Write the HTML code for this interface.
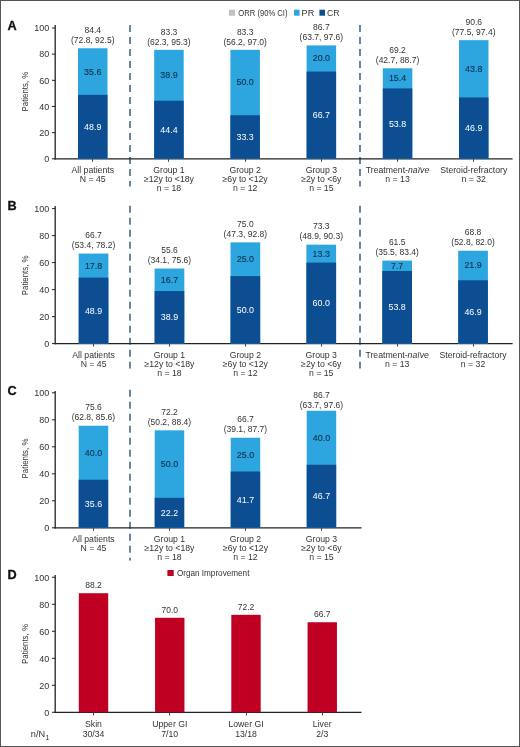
<!DOCTYPE html>
<html><head><meta charset="utf-8"><style>
html,body{margin:0;padding:0;background:#fff;}
#w{position:relative;width:518px;height:745px;border:1px solid #555;overflow:hidden;}
svg{position:absolute;left:-1px;top:-1px;font-family:"Liberation Sans", sans-serif;will-change:transform;}
</style></head><body><div id="w">
<svg width="520" height="747" viewBox="0 0 520 747">
<line x1="130.00" y1="24.90" x2="130.00" y2="186.50" stroke="#52718f" stroke-width="1.7" stroke-dasharray="7 5"/>
<line x1="360.00" y1="24.90" x2="360.00" y2="186.50" stroke="#52718f" stroke-width="1.7" stroke-dasharray="7 5"/>
<line x1="55.20" y1="25.00" x2="55.20" y2="159.40" stroke="#222222" stroke-width="1.3" />
<line x1="52.00" y1="158.80" x2="55.20" y2="158.80" stroke="#222222" stroke-width="1.0" />
<text x="49.20" y="162.00" font-size="9" text-anchor="end" fill="#333333" >0</text>
<line x1="52.00" y1="132.64" x2="55.20" y2="132.64" stroke="#222222" stroke-width="1.0" />
<text x="49.20" y="135.84" font-size="9" text-anchor="end" fill="#333333" >20</text>
<line x1="52.00" y1="106.48" x2="55.20" y2="106.48" stroke="#222222" stroke-width="1.0" />
<text x="49.20" y="109.68" font-size="9" text-anchor="end" fill="#333333" >40</text>
<line x1="52.00" y1="80.32" x2="55.20" y2="80.32" stroke="#222222" stroke-width="1.0" />
<text x="49.20" y="83.52" font-size="9" text-anchor="end" fill="#333333" >60</text>
<line x1="52.00" y1="54.16" x2="55.20" y2="54.16" stroke="#222222" stroke-width="1.0" />
<text x="49.20" y="57.36" font-size="9" text-anchor="end" fill="#333333" >80</text>
<line x1="52.00" y1="28.00" x2="55.20" y2="28.00" stroke="#222222" stroke-width="1.0" />
<text x="49.20" y="31.20" font-size="9" text-anchor="end" fill="#333333" >100</text>
<line x1="54.55" y1="158.80" x2="512.60" y2="158.80" stroke="#222222" stroke-width="1.3" />
<text x="0" y="0" font-size="8.8" text-anchor="middle" fill="#333333" textLength="39.8" lengthAdjust="spacingAndGlyphs" transform="translate(27.9 91.60) rotate(-90)">Patients, %</text>
<text x="7.60" y="29.80" font-size="12.7" text-anchor="start" fill="#111" font-weight="bold" stroke="#111" stroke-width="0.3">A</text>
<rect x="78.00" y="48.27" width="29.50" height="110.53" fill="#2da6df"/>
<rect x="78.00" y="94.84" width="29.50" height="63.96" fill="#0c4e91"/>
<text x="92.75" y="129.77" font-size="8.9" text-anchor="middle" fill="#ffffff" >48.9</text>
<text x="92.75" y="74.51" font-size="8.9" text-anchor="middle" fill="#12304d" stroke="#12304d" stroke-width="0.12">35.6</text>
<text x="92.75" y="32.97" font-size="8.5" text-anchor="middle" fill="#333333" >84.4</text>
<text x="92.75" y="42.97" font-size="8.5" text-anchor="middle" fill="#333333" >(72.8, 92.5)</text>
<line x1="92.50" y1="158.80" x2="92.50" y2="161.80" stroke="#444" stroke-width="1.0" />
<text x="92.75" y="172.70" font-size="8.7" text-anchor="middle" fill="#333333" >All patients</text>
<text x="92.75" y="181.75" font-size="8.7" text-anchor="middle" fill="#333333" >N = 45</text>
<rect x="154.20" y="49.84" width="29.50" height="108.96" fill="#2da6df"/>
<rect x="154.20" y="100.72" width="29.50" height="58.08" fill="#0c4e91"/>
<text x="168.95" y="132.71" font-size="8.9" text-anchor="middle" fill="#ffffff" >44.4</text>
<text x="168.95" y="78.23" font-size="8.9" text-anchor="middle" fill="#12304d" stroke="#12304d" stroke-width="0.12">38.9</text>
<text x="168.95" y="34.54" font-size="8.5" text-anchor="middle" fill="#333333" >83.3</text>
<text x="168.95" y="44.54" font-size="8.5" text-anchor="middle" fill="#333333" >(62.3, 95.3)</text>
<line x1="168.50" y1="158.80" x2="168.50" y2="161.80" stroke="#444" stroke-width="1.0" />
<text x="168.95" y="172.70" font-size="8.7" text-anchor="middle" fill="#333333" >Group 1</text>
<text x="168.95" y="181.75" font-size="8.7" text-anchor="middle" fill="#333333" >≥12y to &lt;18y</text>
<text x="168.95" y="190.80" font-size="8.7" text-anchor="middle" fill="#333333" >n = 18</text>
<rect x="230.40" y="49.84" width="29.50" height="108.96" fill="#2da6df"/>
<rect x="230.40" y="115.24" width="29.50" height="43.56" fill="#0c4e91"/>
<text x="245.15" y="139.97" font-size="8.9" text-anchor="middle" fill="#ffffff" >33.3</text>
<text x="245.15" y="85.49" font-size="8.9" text-anchor="middle" fill="#12304d" stroke="#12304d" stroke-width="0.12">50.0</text>
<text x="245.15" y="34.54" font-size="8.5" text-anchor="middle" fill="#333333" >83.3</text>
<text x="245.15" y="44.54" font-size="8.5" text-anchor="middle" fill="#333333" >(56.2, 97.0)</text>
<line x1="245.50" y1="158.80" x2="245.50" y2="161.80" stroke="#444" stroke-width="1.0" />
<text x="245.15" y="172.70" font-size="8.7" text-anchor="middle" fill="#333333" >Group 2</text>
<text x="245.15" y="181.75" font-size="8.7" text-anchor="middle" fill="#333333" >≥6y to &lt;12y</text>
<text x="245.15" y="190.80" font-size="8.7" text-anchor="middle" fill="#333333" >n = 12</text>
<rect x="306.60" y="45.40" width="29.50" height="113.40" fill="#2da6df"/>
<rect x="306.60" y="71.56" width="29.50" height="87.24" fill="#0c4e91"/>
<text x="321.35" y="118.13" font-size="8.9" text-anchor="middle" fill="#ffffff" >66.7</text>
<text x="321.35" y="61.43" font-size="8.9" text-anchor="middle" fill="#12304d" stroke="#12304d" stroke-width="0.12">20.0</text>
<text x="321.35" y="30.10" font-size="8.5" text-anchor="middle" fill="#333333" >86.7</text>
<text x="321.35" y="40.10" font-size="8.5" text-anchor="middle" fill="#333333" >(63.7, 97.6)</text>
<line x1="321.50" y1="158.80" x2="321.50" y2="161.80" stroke="#444" stroke-width="1.0" />
<text x="321.35" y="172.70" font-size="8.7" text-anchor="middle" fill="#333333" >Group 3</text>
<text x="321.35" y="181.75" font-size="8.7" text-anchor="middle" fill="#333333" >≥2y to &lt;6y</text>
<text x="321.35" y="190.80" font-size="8.7" text-anchor="middle" fill="#333333" >n = 15</text>
<rect x="382.80" y="68.29" width="29.50" height="90.51" fill="#2da6df"/>
<rect x="382.80" y="88.43" width="29.50" height="70.37" fill="#0c4e91"/>
<text x="397.55" y="126.56" font-size="8.9" text-anchor="middle" fill="#ffffff" >53.8</text>
<text x="397.55" y="81.31" font-size="8.9" text-anchor="middle" fill="#12304d" stroke="#12304d" stroke-width="0.12">15.4</text>
<text x="397.55" y="52.99" font-size="8.5" text-anchor="middle" fill="#333333" >69.2</text>
<text x="397.55" y="62.99" font-size="8.5" text-anchor="middle" fill="#333333" >(42.7, 88.7)</text>
<line x1="397.50" y1="158.80" x2="397.50" y2="161.80" stroke="#444" stroke-width="1.0" />
<text x="397.55" y="172.70" font-size="8.7" text-anchor="middle" fill="#333333">Treatment-<tspan font-style="italic">naïve</tspan></text>
<text x="397.55" y="181.75" font-size="8.7" text-anchor="middle" fill="#333333" >n = 13</text>
<rect x="459.00" y="40.16" width="29.50" height="118.64" fill="#2da6df"/>
<rect x="459.00" y="97.45" width="29.50" height="61.35" fill="#0c4e91"/>
<text x="473.75" y="131.08" font-size="8.9" text-anchor="middle" fill="#ffffff" >46.9</text>
<text x="473.75" y="71.76" font-size="8.9" text-anchor="middle" fill="#12304d" stroke="#12304d" stroke-width="0.12">43.8</text>
<text x="473.75" y="24.86" font-size="8.5" text-anchor="middle" fill="#333333" >90.6</text>
<text x="473.75" y="34.86" font-size="8.5" text-anchor="middle" fill="#333333" >(77.5, 97.4)</text>
<line x1="473.50" y1="158.80" x2="473.50" y2="161.80" stroke="#444" stroke-width="1.0" />
<text x="473.75" y="172.70" font-size="8.7" text-anchor="middle" fill="#333333" >Steroid-refractory</text>
<text x="473.75" y="181.75" font-size="8.7" text-anchor="middle" fill="#333333" >n = 32</text>
<line x1="130.00" y1="205.70" x2="130.00" y2="368.50" stroke="#52718f" stroke-width="1.7" stroke-dasharray="7 5"/>
<line x1="360.00" y1="205.70" x2="360.00" y2="368.50" stroke="#52718f" stroke-width="1.7" stroke-dasharray="7 5"/>
<line x1="55.20" y1="206.00" x2="55.20" y2="344.20" stroke="#222222" stroke-width="1.3" />
<line x1="52.00" y1="343.60" x2="55.20" y2="343.60" stroke="#222222" stroke-width="1.0" />
<text x="49.20" y="346.80" font-size="9" text-anchor="end" fill="#333333" >0</text>
<line x1="52.00" y1="316.60" x2="55.20" y2="316.60" stroke="#222222" stroke-width="1.0" />
<text x="49.20" y="319.80" font-size="9" text-anchor="end" fill="#333333" >20</text>
<line x1="52.00" y1="289.60" x2="55.20" y2="289.60" stroke="#222222" stroke-width="1.0" />
<text x="49.20" y="292.80" font-size="9" text-anchor="end" fill="#333333" >40</text>
<line x1="52.00" y1="262.60" x2="55.20" y2="262.60" stroke="#222222" stroke-width="1.0" />
<text x="49.20" y="265.80" font-size="9" text-anchor="end" fill="#333333" >60</text>
<line x1="52.00" y1="235.60" x2="55.20" y2="235.60" stroke="#222222" stroke-width="1.0" />
<text x="49.20" y="238.80" font-size="9" text-anchor="end" fill="#333333" >80</text>
<line x1="52.00" y1="208.60" x2="55.20" y2="208.60" stroke="#222222" stroke-width="1.0" />
<text x="49.20" y="211.80" font-size="9" text-anchor="end" fill="#333333" >100</text>
<line x1="54.55" y1="343.60" x2="512.60" y2="343.60" stroke="#222222" stroke-width="1.3" />
<text x="0" y="0" font-size="8.8" text-anchor="middle" fill="#333333" textLength="39.8" lengthAdjust="spacingAndGlyphs" transform="translate(27.9 275.30) rotate(-90)">Patients, %</text>
<text x="7.60" y="210.40" font-size="12.7" text-anchor="start" fill="#111" font-weight="bold" stroke="#111" stroke-width="0.3">B</text>
<rect x="78.70" y="253.56" width="29.70" height="90.05" fill="#2da6df"/>
<rect x="78.70" y="277.59" width="29.70" height="66.01" fill="#0c4e91"/>
<text x="93.55" y="313.54" font-size="8.9" text-anchor="middle" fill="#ffffff" >48.9</text>
<text x="93.55" y="268.52" font-size="8.9" text-anchor="middle" fill="#12304d" stroke="#12304d" stroke-width="0.12">17.8</text>
<text x="93.55" y="238.25" font-size="8.5" text-anchor="middle" fill="#333333" >66.7</text>
<text x="93.55" y="248.25" font-size="8.5" text-anchor="middle" fill="#333333" >(53.4, 78.2)</text>
<line x1="93.50" y1="343.60" x2="93.50" y2="346.60" stroke="#444" stroke-width="1.0" />
<text x="93.55" y="357.50" font-size="8.7" text-anchor="middle" fill="#333333" >All patients</text>
<text x="93.55" y="366.55" font-size="8.7" text-anchor="middle" fill="#333333" >N = 45</text>
<rect x="154.60" y="268.54" width="29.70" height="75.06" fill="#2da6df"/>
<rect x="154.60" y="291.09" width="29.70" height="52.51" fill="#0c4e91"/>
<text x="169.45" y="320.29" font-size="8.9" text-anchor="middle" fill="#ffffff" >38.9</text>
<text x="169.45" y="282.76" font-size="8.9" text-anchor="middle" fill="#12304d" stroke="#12304d" stroke-width="0.12">16.7</text>
<text x="169.45" y="253.24" font-size="8.5" text-anchor="middle" fill="#333333" >55.6</text>
<text x="169.45" y="263.24" font-size="8.5" text-anchor="middle" fill="#333333" >(34.1, 75.6)</text>
<line x1="169.50" y1="343.60" x2="169.50" y2="346.60" stroke="#444" stroke-width="1.0" />
<text x="169.45" y="357.50" font-size="8.7" text-anchor="middle" fill="#333333" >Group 1</text>
<text x="169.45" y="366.55" font-size="8.7" text-anchor="middle" fill="#333333" >≥12y to &lt;18y</text>
<text x="169.45" y="375.60" font-size="8.7" text-anchor="middle" fill="#333333" >n = 18</text>
<rect x="230.50" y="242.35" width="29.70" height="101.25" fill="#2da6df"/>
<rect x="230.50" y="276.10" width="29.70" height="67.50" fill="#0c4e91"/>
<text x="245.35" y="312.80" font-size="8.9" text-anchor="middle" fill="#ffffff" >50.0</text>
<text x="245.35" y="262.18" font-size="8.9" text-anchor="middle" fill="#12304d" stroke="#12304d" stroke-width="0.12">25.0</text>
<text x="245.35" y="227.05" font-size="8.5" text-anchor="middle" fill="#333333" >75.0</text>
<text x="245.35" y="237.05" font-size="8.5" text-anchor="middle" fill="#333333" >(47.3, 92.8)</text>
<line x1="245.50" y1="343.60" x2="245.50" y2="346.60" stroke="#444" stroke-width="1.0" />
<text x="245.35" y="357.50" font-size="8.7" text-anchor="middle" fill="#333333" >Group 2</text>
<text x="245.35" y="366.55" font-size="8.7" text-anchor="middle" fill="#333333" >≥6y to &lt;12y</text>
<text x="245.35" y="375.60" font-size="8.7" text-anchor="middle" fill="#333333" >n = 12</text>
<rect x="306.40" y="244.65" width="29.70" height="98.95" fill="#2da6df"/>
<rect x="306.40" y="262.60" width="29.70" height="81.00" fill="#0c4e91"/>
<text x="321.25" y="306.05" font-size="8.9" text-anchor="middle" fill="#ffffff" >60.0</text>
<text x="321.25" y="256.57" font-size="8.9" text-anchor="middle" fill="#12304d" stroke="#12304d" stroke-width="0.12">13.3</text>
<text x="321.25" y="229.35" font-size="8.5" text-anchor="middle" fill="#333333" >73.3</text>
<text x="321.25" y="239.35" font-size="8.5" text-anchor="middle" fill="#333333" >(48.9, 90.3)</text>
<line x1="321.50" y1="343.60" x2="321.50" y2="346.60" stroke="#444" stroke-width="1.0" />
<text x="321.25" y="357.50" font-size="8.7" text-anchor="middle" fill="#333333" >Group 3</text>
<text x="321.25" y="366.55" font-size="8.7" text-anchor="middle" fill="#333333" >≥2y to &lt;6y</text>
<text x="321.25" y="375.60" font-size="8.7" text-anchor="middle" fill="#333333" >n = 15</text>
<rect x="382.30" y="260.58" width="29.70" height="83.02" fill="#2da6df"/>
<rect x="382.30" y="270.97" width="29.70" height="72.63" fill="#0c4e91"/>
<text x="397.15" y="310.24" font-size="8.9" text-anchor="middle" fill="#ffffff" >53.8</text>
<text x="397.15" y="268.72" font-size="8.9" text-anchor="middle" fill="#12304d" stroke="#12304d" stroke-width="0.12">7.7</text>
<text x="397.15" y="245.28" font-size="8.5" text-anchor="middle" fill="#333333" >61.5</text>
<text x="397.15" y="255.28" font-size="8.5" text-anchor="middle" fill="#333333" >(35.5, 83.4)</text>
<line x1="397.50" y1="343.60" x2="397.50" y2="346.60" stroke="#444" stroke-width="1.0" />
<text x="397.15" y="357.50" font-size="8.7" text-anchor="middle" fill="#333333">Treatment-<tspan font-style="italic">naïve</tspan></text>
<text x="397.15" y="366.55" font-size="8.7" text-anchor="middle" fill="#333333" >n = 13</text>
<rect x="458.20" y="250.72" width="29.70" height="92.88" fill="#2da6df"/>
<rect x="458.20" y="280.29" width="29.70" height="63.31" fill="#0c4e91"/>
<text x="473.05" y="314.89" font-size="8.9" text-anchor="middle" fill="#ffffff" >46.9</text>
<text x="473.05" y="268.45" font-size="8.9" text-anchor="middle" fill="#12304d" stroke="#12304d" stroke-width="0.12">21.9</text>
<text x="473.05" y="235.42" font-size="8.5" text-anchor="middle" fill="#333333" >68.8</text>
<text x="473.05" y="245.42" font-size="8.5" text-anchor="middle" fill="#333333" >(52.8, 82.0)</text>
<line x1="473.50" y1="343.60" x2="473.50" y2="346.60" stroke="#444" stroke-width="1.0" />
<text x="473.05" y="357.50" font-size="8.7" text-anchor="middle" fill="#333333" >Steroid-refractory</text>
<text x="473.05" y="366.55" font-size="8.7" text-anchor="middle" fill="#333333" >n = 32</text>
<line x1="130.00" y1="389.80" x2="130.00" y2="560.50" stroke="#52718f" stroke-width="1.7" stroke-dasharray="7 5"/>
<line x1="55.20" y1="391.00" x2="55.20" y2="528.40" stroke="#222222" stroke-width="1.3" />
<line x1="52.00" y1="527.80" x2="55.20" y2="527.80" stroke="#222222" stroke-width="1.0" />
<text x="49.20" y="531.00" font-size="9" text-anchor="end" fill="#333333" >0</text>
<line x1="52.00" y1="500.80" x2="55.20" y2="500.80" stroke="#222222" stroke-width="1.0" />
<text x="49.20" y="504.00" font-size="9" text-anchor="end" fill="#333333" >20</text>
<line x1="52.00" y1="473.80" x2="55.20" y2="473.80" stroke="#222222" stroke-width="1.0" />
<text x="49.20" y="477.00" font-size="9" text-anchor="end" fill="#333333" >40</text>
<line x1="52.00" y1="446.80" x2="55.20" y2="446.80" stroke="#222222" stroke-width="1.0" />
<text x="49.20" y="450.00" font-size="9" text-anchor="end" fill="#333333" >60</text>
<line x1="52.00" y1="419.80" x2="55.20" y2="419.80" stroke="#222222" stroke-width="1.0" />
<text x="49.20" y="423.00" font-size="9" text-anchor="end" fill="#333333" >80</text>
<line x1="52.00" y1="392.80" x2="55.20" y2="392.80" stroke="#222222" stroke-width="1.0" />
<text x="49.20" y="396.00" font-size="9" text-anchor="end" fill="#333333" >100</text>
<line x1="54.55" y1="527.80" x2="361.50" y2="527.80" stroke="#222222" stroke-width="1.3" />
<text x="0" y="0" font-size="8.8" text-anchor="middle" fill="#333333" textLength="39.8" lengthAdjust="spacingAndGlyphs" transform="translate(27.9 458.50) rotate(-90)">Patients, %</text>
<text x="7.60" y="394.60" font-size="12.7" text-anchor="start" fill="#111" font-weight="bold" stroke="#111" stroke-width="0.3">C</text>
<rect x="78.70" y="425.74" width="29.50" height="102.06" fill="#2da6df"/>
<rect x="78.70" y="479.74" width="29.50" height="48.06" fill="#0c4e91"/>
<text x="93.45" y="506.72" font-size="8.9" text-anchor="middle" fill="#ffffff" >35.6</text>
<text x="93.45" y="455.69" font-size="8.9" text-anchor="middle" fill="#12304d" stroke="#12304d" stroke-width="0.12">40.0</text>
<text x="93.45" y="410.44" font-size="8.5" text-anchor="middle" fill="#333333" >75.6</text>
<text x="93.45" y="420.44" font-size="8.5" text-anchor="middle" fill="#333333" >(62.8, 85.6)</text>
<line x1="93.50" y1="527.80" x2="93.50" y2="530.80" stroke="#444" stroke-width="1.0" />
<text x="93.45" y="541.70" font-size="8.7" text-anchor="middle" fill="#333333" >All patients</text>
<text x="93.45" y="550.75" font-size="8.7" text-anchor="middle" fill="#333333" >N = 45</text>
<rect x="154.70" y="430.33" width="29.50" height="97.47" fill="#2da6df"/>
<rect x="154.70" y="497.83" width="29.50" height="29.97" fill="#0c4e91"/>
<text x="169.45" y="515.76" font-size="8.9" text-anchor="middle" fill="#ffffff" >22.2</text>
<text x="169.45" y="467.03" font-size="8.9" text-anchor="middle" fill="#12304d" stroke="#12304d" stroke-width="0.12">50.0</text>
<text x="169.45" y="415.03" font-size="8.5" text-anchor="middle" fill="#333333" >72.2</text>
<text x="169.45" y="425.03" font-size="8.5" text-anchor="middle" fill="#333333" >(50.2, 88.4)</text>
<line x1="169.50" y1="527.80" x2="169.50" y2="530.80" stroke="#444" stroke-width="1.0" />
<text x="169.45" y="541.70" font-size="8.7" text-anchor="middle" fill="#333333" >Group 1</text>
<text x="169.45" y="550.75" font-size="8.7" text-anchor="middle" fill="#333333" >≥12y to &lt;18y</text>
<text x="169.45" y="559.80" font-size="8.7" text-anchor="middle" fill="#333333" >n = 18</text>
<rect x="230.70" y="437.75" width="29.50" height="90.05" fill="#2da6df"/>
<rect x="230.70" y="471.50" width="29.50" height="56.30" fill="#0c4e91"/>
<text x="245.45" y="502.60" font-size="8.9" text-anchor="middle" fill="#ffffff" >41.7</text>
<text x="245.45" y="457.58" font-size="8.9" text-anchor="middle" fill="#12304d" stroke="#12304d" stroke-width="0.12">25.0</text>
<text x="245.45" y="422.45" font-size="8.5" text-anchor="middle" fill="#333333" >66.7</text>
<text x="245.45" y="432.45" font-size="8.5" text-anchor="middle" fill="#333333" >(39.1, 87.7)</text>
<line x1="245.50" y1="527.80" x2="245.50" y2="530.80" stroke="#444" stroke-width="1.0" />
<text x="245.45" y="541.70" font-size="8.7" text-anchor="middle" fill="#333333" >Group 2</text>
<text x="245.45" y="550.75" font-size="8.7" text-anchor="middle" fill="#333333" >≥6y to &lt;12y</text>
<text x="245.45" y="559.80" font-size="8.7" text-anchor="middle" fill="#333333" >n = 12</text>
<rect x="306.70" y="410.75" width="29.50" height="117.05" fill="#2da6df"/>
<rect x="306.70" y="464.75" width="29.50" height="63.05" fill="#0c4e91"/>
<text x="321.45" y="499.23" font-size="8.9" text-anchor="middle" fill="#ffffff" >46.7</text>
<text x="321.45" y="440.70" font-size="8.9" text-anchor="middle" fill="#12304d" stroke="#12304d" stroke-width="0.12">40.0</text>
<text x="321.45" y="397.75" font-size="8.5" text-anchor="middle" fill="#333333" >86.7</text>
<text x="321.45" y="407.75" font-size="8.5" text-anchor="middle" fill="#333333" >(63.7, 97.6)</text>
<line x1="321.50" y1="527.80" x2="321.50" y2="530.80" stroke="#444" stroke-width="1.0" />
<text x="321.45" y="541.70" font-size="8.7" text-anchor="middle" fill="#333333" >Group 3</text>
<text x="321.45" y="550.75" font-size="8.7" text-anchor="middle" fill="#333333" >≥2y to &lt;6y</text>
<text x="321.45" y="559.80" font-size="8.7" text-anchor="middle" fill="#333333" >n = 15</text>
<rect x="229.00" y="9.70" width="6.00" height="6.00" fill="#c0c0c0"/>
<text x="238.30" y="15.60" font-size="8.8" text-anchor="start" fill="#333333" textLength="49.2" lengthAdjust="spacingAndGlyphs">ORR (90% CI)</text>
<rect x="294.00" y="9.70" width="5.60" height="6.00" fill="#2da6df"/>
<text x="301.60" y="15.60" font-size="8.8" text-anchor="start" fill="#333333" textLength="12.6" lengthAdjust="spacingAndGlyphs">PR</text>
<rect x="319.40" y="9.70" width="5.60" height="6.00" fill="#0c4e91"/>
<text x="327.00" y="15.60" font-size="8.8" text-anchor="start" fill="#333333" textLength="12.6" lengthAdjust="spacingAndGlyphs">CR</text>
<line x1="55.20" y1="575.00" x2="55.20" y2="712.90" stroke="#222222" stroke-width="1.3" />
<line x1="52.00" y1="712.30" x2="55.20" y2="712.30" stroke="#222222" stroke-width="1.0" />
<text x="49.20" y="715.50" font-size="9" text-anchor="end" fill="#333333" >0</text>
<line x1="52.00" y1="685.30" x2="55.20" y2="685.30" stroke="#222222" stroke-width="1.0" />
<text x="49.20" y="688.50" font-size="9" text-anchor="end" fill="#333333" >20</text>
<line x1="52.00" y1="658.30" x2="55.20" y2="658.30" stroke="#222222" stroke-width="1.0" />
<text x="49.20" y="661.50" font-size="9" text-anchor="end" fill="#333333" >40</text>
<line x1="52.00" y1="631.30" x2="55.20" y2="631.30" stroke="#222222" stroke-width="1.0" />
<text x="49.20" y="634.50" font-size="9" text-anchor="end" fill="#333333" >60</text>
<line x1="52.00" y1="604.30" x2="55.20" y2="604.30" stroke="#222222" stroke-width="1.0" />
<text x="49.20" y="607.50" font-size="9" text-anchor="end" fill="#333333" >80</text>
<line x1="52.00" y1="577.30" x2="55.20" y2="577.30" stroke="#222222" stroke-width="1.0" />
<text x="49.20" y="580.50" font-size="9" text-anchor="end" fill="#333333" >100</text>
<line x1="54.55" y1="712.30" x2="361.50" y2="712.30" stroke="#222222" stroke-width="1.3" />
<text x="0" y="0" font-size="8.8" text-anchor="middle" fill="#333333" textLength="39.8" lengthAdjust="spacingAndGlyphs" transform="translate(27.9 644.00) rotate(-90)">Patients, %</text>
<text x="7.60" y="579.10" font-size="12.7" text-anchor="start" fill="#111" font-weight="bold" stroke="#111" stroke-width="0.3">D</text>
<rect x="78.80" y="593.23" width="29.40" height="119.07" fill="#c00022"/>
<text x="93.50" y="588.43" font-size="8.5" text-anchor="middle" fill="#333333" >88.2</text>
<line x1="93.50" y1="712.30" x2="93.50" y2="715.30" stroke="#444" stroke-width="1.0" />
<text x="93.50" y="726.70" font-size="8.7" text-anchor="middle" fill="#333333" >Skin</text>
<text x="93.50" y="737.40" font-size="8.7" text-anchor="middle" fill="#333333" >30/34</text>
<rect x="155.05" y="617.80" width="29.40" height="94.50" fill="#c00022"/>
<text x="169.75" y="613.00" font-size="8.5" text-anchor="middle" fill="#333333" >70.0</text>
<line x1="169.50" y1="712.30" x2="169.50" y2="715.30" stroke="#444" stroke-width="1.0" />
<text x="169.75" y="726.70" font-size="8.7" text-anchor="middle" fill="#333333" >Upper GI</text>
<text x="169.75" y="737.40" font-size="8.7" text-anchor="middle" fill="#333333" >7/10</text>
<rect x="231.30" y="614.83" width="29.40" height="97.47" fill="#c00022"/>
<text x="246.00" y="610.03" font-size="8.5" text-anchor="middle" fill="#333333" >72.2</text>
<line x1="246.50" y1="712.30" x2="246.50" y2="715.30" stroke="#444" stroke-width="1.0" />
<text x="246.00" y="726.70" font-size="8.7" text-anchor="middle" fill="#333333" >Lower GI</text>
<text x="246.00" y="737.40" font-size="8.7" text-anchor="middle" fill="#333333" >13/18</text>
<rect x="307.55" y="622.25" width="29.40" height="90.05" fill="#c00022"/>
<text x="322.25" y="617.45" font-size="8.5" text-anchor="middle" fill="#333333" >66.7</text>
<line x1="322.50" y1="712.30" x2="322.50" y2="715.30" stroke="#444" stroke-width="1.0" />
<text x="322.25" y="726.70" font-size="8.7" text-anchor="middle" fill="#333333" >Liver</text>
<text x="322.25" y="737.40" font-size="8.7" text-anchor="middle" fill="#333333" >2/3</text>
<text x="30.8" y="737.3" font-size="9.2" fill="#333333">n/N<tspan font-size="7" dy="2.4" dx="0.3">1</tspan></text>
<rect x="167.40" y="570.00" width="6.30" height="6.00" fill="#c00022"/>
<text x="176.90" y="576.30" font-size="8.9" text-anchor="start" fill="#333333" textLength="72.5" lengthAdjust="spacingAndGlyphs">Organ Improvement</text>
</svg></div></body></html>
